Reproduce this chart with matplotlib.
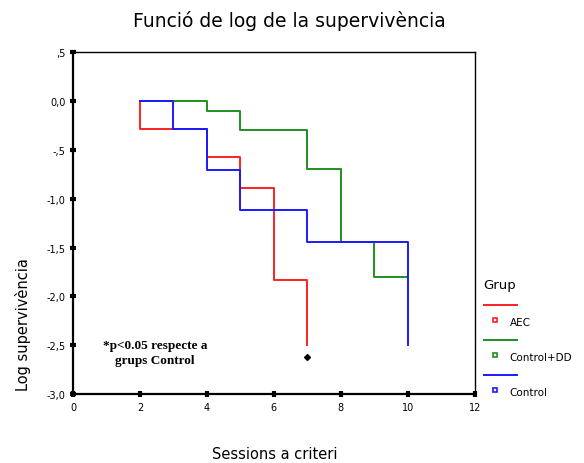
import numpy as np
import matplotlib
matplotlib.use("Agg")
import matplotlib.pyplot as plt
from matplotlib.lines import Line2D

# log-survival step functions (session, log S) per group
aec_x = [2, 2, 4, 5, 6, 7, 7]
aec_y = [0.0, -0.29, -0.57, -0.89, -1.83, -1.83, -2.50]
ctrl_dd_x = [2, 4, 5, 7, 8, 9, 10]
ctrl_dd_y = [0.0, -0.10, -0.30, -0.70, -1.44, -1.80, -1.80]
ctrl_x = [2, 3, 4, 5, 7, 10, 10]
ctrl_y = [0.0, -0.29, -0.71, -1.12, -1.44, -1.44, -2.50]

groups = ["AEC", "Control+DD", "Control"]
colors = ["#ff2020", "#1f8f1f", "#1a1aff"]

x_ticks = [0, 2, 4, 6, 8, 10, 12]
y_ticks = [0.5, 0.0, -0.5, -1.0, -1.5, -2.0, -2.5, -3.0]
y_tick_labels = [",5", "0,0", "-,5", "-1,0", "-1,5", "-2,0", "-2,5", "-3,0"]

fig = plt.figure(figsize=(5.84, 4.64), dpi=100)
ax = fig.add_axes([0.125, 0.148, 0.688, 0.738])

for xs, ys, c in [(aec_x, aec_y, colors[0]),
                  (ctrl_dd_x, ctrl_dd_y, colors[1]),
                  (ctrl_x, ctrl_y, colors[2])]:
    ax.step(xs, ys, where="post", color=c, lw=1.4)

# significance marker under the AEC curve
ax.plot([7], [-2.62], marker="D", ms=3, color="black")
ax.text(2.45, -2.57, "*p<0.05 respecte a\ngrups Control", ha="center", va="center",
        fontsize=9.5, family="Liberation Serif", weight="bold", linespacing=1.35)

ax.set_xlim(0, 12)
ax.set_ylim(-3.0, 0.5)
ax.set_xticks(x_ticks)
ax.set_xticklabels([str(t) for t in x_ticks])
ax.set_yticks(y_ticks)
ax.set_yticklabels(y_tick_labels)
ax.tick_params(direction="inout", length=4, width=3, labelsize=7)
for side in ["left", "bottom"]:
    ax.spines[side].set_linewidth(1.6)
for side in ["top", "right"]:
    ax.spines[side].set_linewidth(1.0)

fig.text(0.495, 0.955, "Funció de log de la supervivència", ha="center", va="center",
         fontsize=13.5)
fig.text(0.47, 0.02, "Sessions a criteri", ha="center", va="center", fontsize=10.5)
fig.text(0.04, 0.30, "Log supervivència", ha="center", va="center", rotation=90, fontsize=10.5)

# legend drawn at the right edge of the figure
fig.text(0.828, 0.385, "Grup", ha="left", va="center", fontsize=9.5)
for i, (g, c) in enumerate(zip(groups, colors)):
    y0 = 0.34 - i * 0.075
    fig.add_artist(Line2D([0.828, 0.885], [y0, y0], color=c, lw=1.4, transform=fig.transFigure))
    fig.add_artist(Line2D([0.848], [y0 - 0.032], marker="s", ms=3.5, mfc="none", mec=c,
                          mew=1.2, transform=fig.transFigure))
    fig.text(0.873, y0 - 0.036, g, ha="left", va="center", fontsize=7.5)

fig.savefig("out.png", dpi=100)
